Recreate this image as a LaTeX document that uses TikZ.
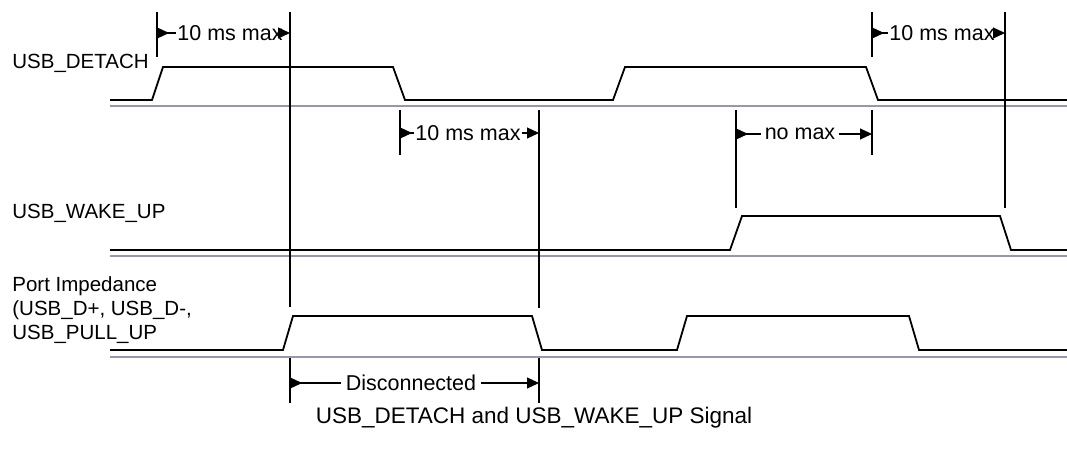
\documentclass[tikz,border=0pt]{standalone}
\usepackage{fontspec}
\setmainfont{Liberation Sans}
\usetikzlibrary{arrows.meta}

\definecolor{railgray}{RGB}{150,150,172}

\tikzset{
  signal/.style={line width=1.8pt, line join=miter},
  railline/.style={line width=1.7pt, color=railgray},
  timeline/.style={line width=1.5pt},
  spanstart/.style={line width=1.2pt, {Triangle[reversed,length=12pt,width=11pt]}-},
  spanend/.style={line width=1.2pt, -{Triangle[length=12pt,width=11pt]}},
  spanlabel/.style={inner sep=1pt, font=\fontsize{21.5}{24}\selectfont},
  siglabel/.style={anchor=west, inner sep=0pt, align=left,
    font=\fontsize{20.5}{24}\selectfont},
}

\begin{document}
\begin{tikzpicture}[x=1pt,y=-1pt,style=thick]
    \useasboundingbox (0,0) rectangle (1067,454);
    % signal names
    \node[siglabel] (detach) at (12,63) {USB\_DETACH};
    \node[siglabel] (wakeup) at (12,213) {USB\_WAKE\_UP};
    \node[siglabel] (port) at (12,310) {Port Impedance\\(USB\_D+, USB\_D-,\\USB\_PULL\_UP};
    % grey rails
    \draw[railline] (110,106) -- (1067,106);
    \draw[railline] (110,256) -- (1067,256);
    \draw[railline] (110,357) -- (1067,357);
    % waveforms
    \draw[signal] (110,100) -- (152,100) -- (163,67) -- (393,67) -- (405,100)
        -- (613,100) -- (625,67) -- (866,67) -- (878,100) -- (1067,100);
    \draw[signal] (110,250) -- (730,250) -- (742,216) -- (1000,216) -- (1011,250)
        -- (1067,250);
    \draw[signal] (110,350) -- (283,350) -- (293,316) -- (532,316) -- (542,350)
        -- (677,350) -- (687,316) -- (909,316) -- (919,350) -- (1067,350);
    % timing marks
    \draw[timeline] (157,12) -- (157,57);
    \draw[timeline] (290,12) -- (290,307);
    \draw[timeline] (290,358) -- (290,403);
    \draw[timeline] (400,110) -- (400,155);
    \draw[timeline] (539,110) -- (539,308);
    \draw[timeline] (539,358) -- (539,403);
    \draw[timeline] (736,110) -- (736,208);
    \draw[timeline] (872,12) -- (872,57);
    \draw[timeline] (872,110) -- (872,155);
    \draw[timeline] (1005,12) -- (1005,208);
    % spans
    \coordinate (s1a) at (157,33);  \coordinate (s1b) at (290,33);
    \coordinate (s2a) at (400,133); \coordinate (s2b) at (539,133);
    \coordinate (s3a) at (736,134); \coordinate (s3b) at (872,134);
    \coordinate (s4a) at (872,33);  \coordinate (s4b) at (1005,33);
    \coordinate (s5a) at (290,383); \coordinate (s5b) at (539,383);
    \node[spanlabel] (max1) at (230,33) {10 ms max};
    \node[spanlabel] (max2) at (468,133) {10 ms max};
    \node[spanlabel, inner xsep=3pt] (nomax) at (800,134) {no max};
    \node[spanlabel] (max3) at (942,33) {10 ms max};
    \node[spanlabel, inner xsep=4pt] (disc) at (411,383) {Disconnected};
    \draw[spanstart] (s1a) -- (max1);  \draw[spanend] (max1) -- (s1b);
    \draw[spanstart] (s2a) -- (max2);  \draw[spanend] (max2) -- (s2b);
    \draw[spanstart] (s3a) -- (nomax); \draw[spanend] (nomax) -- (s3b);
    \draw[spanstart] (s4a) -- (max3);  \draw[spanend] (max3) -- (s4b);
    \draw[spanstart] (s5a) -- (disc);  \draw[spanend] (disc) -- (s5b);
    % caption
    \node[font=\fontsize{22.5}{26}\selectfont] (caption) at (534,418)
        {USB\_DETACH and USB\_WAKE\_UP Signal};
\end{tikzpicture}
\end{document}
